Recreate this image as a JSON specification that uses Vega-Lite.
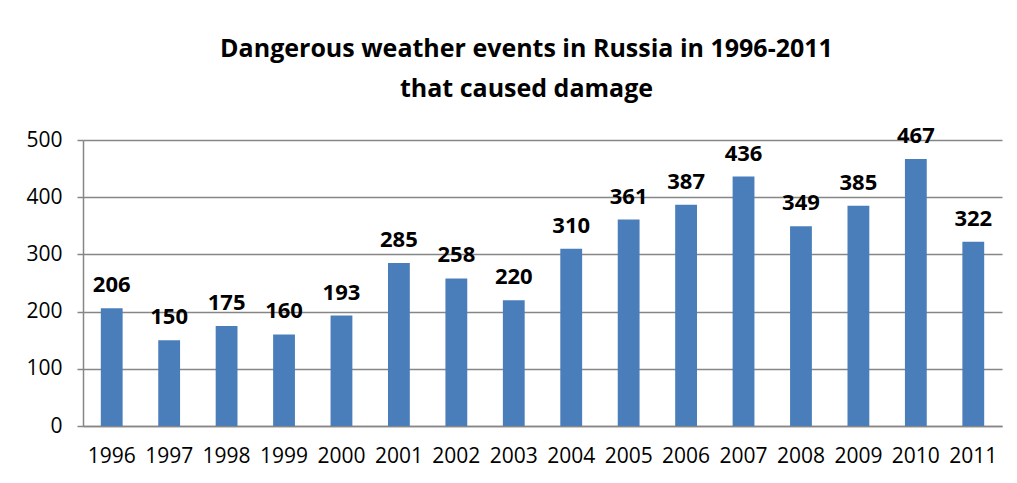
{
  "$schema": "https://vega.github.io/schema/vega-lite/v6.json",
  "width": 919,
  "height": 286,
  "autosize": {"type": "none"},
  "padding": {"left": 83, "top": 140, "right": 15, "bottom": 57},
  "background": "white",
  "title": {
    "text": ["Dangerous weather events in Russia in 1996-2011", "that caused damage"],
    "font": "Open Sans",
    "fontSize": 25,
    "fontWeight": "bold",
    "color": "#000000",
    "lineHeight": 40,
    "anchor": "middle",
    "frame": "group",
    "dx": -16,
    "offset": 23
  },
  "data": {
    "values": [
      {"year": "1996", "events": 206},
      {"year": "1997", "events": 150},
      {"year": "1998", "events": 175},
      {"year": "1999", "events": 160},
      {"year": "2000", "events": 193},
      {"year": "2001", "events": 285},
      {"year": "2002", "events": 258},
      {"year": "2003", "events": 220},
      {"year": "2004", "events": 310},
      {"year": "2005", "events": 361},
      {"year": "2006", "events": 387},
      {"year": "2007", "events": 436},
      {"year": "2008", "events": 349},
      {"year": "2009", "events": 385},
      {"year": "2010", "events": 467},
      {"year": "2011", "events": 322}
    ]
  },
  "encoding": {
    "x": {
      "field": "year",
      "type": "ordinal",
      "sort": null,
      "scale": {"paddingInner": 0.62, "paddingOuter": 0.31},
      "axis": {
        "title": null,
        "labelAngle": 0,
        "ticks": false,
        "labelFont": "Open Sans",
        "labelFontSize": 21,
        "labelColor": "#000000",
        "labelPadding": 19,
        "domainColor": "#868686",
        "domainWidth": 1.5
      }
    },
    "y": {
      "field": "events",
      "type": "quantitative",
      "scale": {"domain": [0, 500], "nice": false},
      "axis": {
        "title": null,
        "values": [0, 100, 200, 300, 400, 500],
        "tickSize": 6,
        "tickColor": "#868686",
        "tickWidth": 1.5,
        "domainColor": "#868686",
        "domainWidth": 1.5,
        "gridColor": "#868686",
        "gridWidth": 1.5,
        "labelFont": "Open Sans",
        "labelFontSize": 21,
        "labelColor": "#000000",
        "labelPadding": 15
      }
    }
  },
  "layer": [
    {"mark": {"type": "bar", "color": "#4a7ebb"}},
    {
      "mark": {
        "type": "text",
        "font": "Open Sans",
        "fontSize": 22,
        "fontWeight": "bold",
        "color": "#000000",
        "baseline": "alphabetic",
        "dy": -16
      },
      "encoding": {"text": {"field": "events", "type": "quantitative"}}
    }
  ],
  "config": {"view": {"stroke": null}}
}
